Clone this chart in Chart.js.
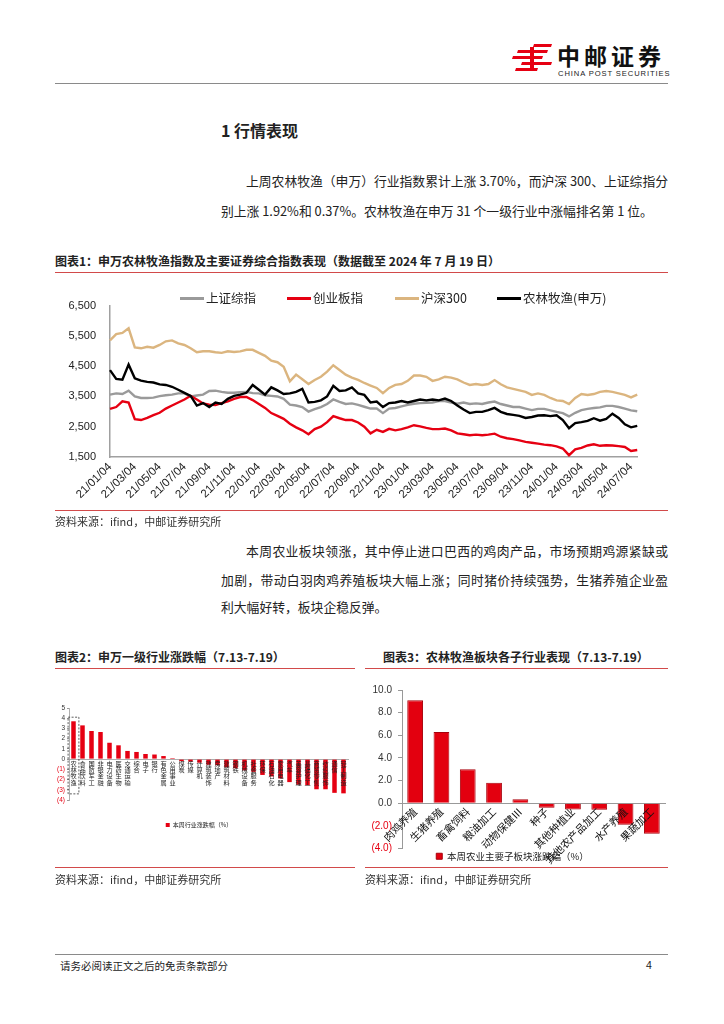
<!DOCTYPE html>
<html lang="zh-CN">
<head>
<meta charset="utf-8">
<title>农林牧渔行情表现</title>
<script src="https://cdn.jsdelivr.net/npm/chart.js@4.4.1/dist/chart.umd.min.js"></script>
<style>
  html, body { margin: 0; padding: 0; background: #fff; }
  body {
    width: 724px; height: 1024px; position: relative; overflow: hidden;
    font-family: "Noto Sans CJK SC", "Liberation Sans", sans-serif; color: #222;
  }
  .t { position: absolute; white-space: nowrap; }
  .just { text-align: justify; text-align-last: justify; }
  .body { font-size: 12.8px; line-height: 16px; }
  .cap { font-size: 12px; font-weight: bold; line-height: 14px; }
  .src { font-size: 11px; line-height: 14px; color: #333; }
  .redline { position: absolute; height: 0; border-top: 1px solid #d24a4a; }
  .box { position: absolute; }
  .lg { position: absolute; top: 290px; font-size: 12.5px; line-height: 16px; white-space: nowrap; }
  .lg i { display: inline-block; width: 24px; height: 3px; margin-right: 2px; vertical-align: middle; position: relative; top: -1px; }
</style>
</head>
<body>

<!-- header -->
<svg class="box" style="left:512px;top:43px" width="42" height="28" viewBox="0 0 42 28">
  <g fill="#e60012">
    <polygon points="22,1 40,1 39,4 21,4"/>
    <polygon points="6,7 36,7 35,10 5,10"/>
    <polygon points="1,13 31,13 30,16 0,16"/>
    <polygon points="10,19 40,19 39,22 9,22"/>
    <polygon points="4,25 26,25 25,28 3,28"/>
    <polygon points="18,4 22,4 22,25 18,25"/>
  </g>
</svg>
<div class="t" style="left:557px;top:42px;font-size:23px;font-weight:bold;letter-spacing:4px;line-height:26px;color:#111">中邮证券</div>
<div class="t" style="left:558px;top:69px;font-size:7.6px;letter-spacing:0.9px;line-height:10px;font-family:'Liberation Sans',sans-serif;color:#222">CHINA POST SECURITIES</div>
<div class="box" style="left:55px;top:83px;width:613px;border-top:1px solid #8a8a8a"></div>

<!-- section text -->
<div class="t" style="left:221px;top:121px;font-size:16px;font-weight:bold;line-height:18px">1 行情表现</div>
<div class="t body just" style="left:246px;top:173px;width:422px">上周农林牧渔（申万）行业指数累计上涨 3.70%，而沪深 300、上证综指分</div>
<div class="t body" style="left:221px;top:203px">别上涨 1.92%和 0.37%。农林牧渔在申万 31 个一级行业中涨幅排名第 1 位。</div>

<!-- figure 1 -->
<div class="t cap" style="left:55px;top:254px">图表1：申万农林牧渔指数及主要证券综合指数表现（数据截至 2024 年 7 月 19 日）</div>
<div class="redline" style="left:55px;top:272px;width:613px"></div>
<div class="box" style="left:50px;top:285px;width:600px;height:227px"><canvas id="c1"></canvas></div>
<div class="lg" style="left:180px"><i style="background:#9a9a9a"></i>上证综指</div>
<div class="lg" style="left:287px"><i style="background:#e60012"></i>创业板指</div>
<div class="lg" style="left:395px"><i style="background:#dbb57f"></i>沪深300</div>
<div class="lg" style="left:497px"><i style="background:#000"></i>农林牧渔(申万)</div>
<div class="redline" style="left:55px;top:510px;width:613px"></div>
<div class="t src" style="left:55px;top:514px">资料来源：ifind，中邮证券研究所</div>

<div class="t body just" style="left:246px;top:543px;width:422px">本周农业板块领涨，其中停止进口巴西的鸡肉产品，市场预期鸡源紧缺或</div>
<div class="t body just" style="left:221px;top:572px;width:447px">加剧，带动白羽肉鸡养殖板块大幅上涨；同时猪价持续强势，生猪养殖企业盈</div>
<div class="t body" style="left:221px;top:599px">利大幅好转，板块企稳反弹。</div>

<!-- figures 2 and 3 -->
<div class="t cap" style="left:55px;top:650px">图表2：申万一级行业涨跌幅（7.13-7.19）</div>
<div class="t cap" style="left:383px;top:650px">图表3：农林牧渔板块各子行业表现（7.13-7.19）</div>
<div class="redline" style="left:55px;top:668px;width:300px"></div>
<div class="redline" style="left:365px;top:668px;width:303px"></div>
<div class="box" style="left:50px;top:700px;width:305px;height:138px"><canvas id="c2"></canvas></div>
<div class="box" style="left:360px;top:678px;width:310px;height:193px"><canvas id="c3"></canvas></div>
<div class="redline" style="left:55px;top:867px;width:300px"></div>
<div class="redline" style="left:365px;top:867px;width:303px"></div>
<div class="t src" style="left:55px;top:872px">资料来源：ifind，中邮证券研究所</div>
<div class="t src" style="left:365px;top:872px">资料来源：ifind，中邮证券研究所</div>

<!-- footer -->
<div class="box" style="left:55px;top:954px;width:613px;border-top:1px solid #8a8a8a"></div>
<div class="t" style="left:60px;top:959px;font-size:10.5px;line-height:13px">请务必阅读正文之后的免责条款部分</div>
<div class="t" style="left:646px;top:959px;font-size:10.5px;line-height:13px;font-family:'Liberation Sans',sans-serif">4</div>

<script>
// ---- figure 1: index levels, sampled on the 4th and 19th of each month ----
const dates = [];
for (let y = 21; y <= 24; y++) {
  for (let mo = 1; mo <= 12; mo++) {
    if (y === 24 && mo > 7) break;
    const mm = String(mo).padStart(2, "0");
    dates.push(y + "/" + mm + "/04", y + "/" + mm + "/19");
  }
}

const shIndex = [
  3560, 3600, 3580, 3690, 3500, 3450, 3450, 3460, 3510, 3540, 3560, 3600, 3600, 3500, 3530, 3560,
  3680, 3690, 3650, 3620, 3620, 3640, 3650, 3610, 3600, 3540, 3520, 3500, 3420, 3230, 3200, 3150,
  3000, 3080, 3150, 3250, 3400, 3320, 3250, 3270, 3220, 3160, 3100, 3100, 2950, 3100, 3120, 3170,
  3220, 3260, 3280, 3290, 3300, 3350, 3350, 3300, 3260, 3300, 3250, 3270, 3250, 3300, 3330, 3250,
  3200, 3150, 3150, 3100, 3050, 3090, 3090, 3040, 2990, 2950, 2840, 2960, 3050, 3090, 3120, 3140,
  3190, 3190, 3150, 3100, 3040, 3010
];
const cybIndex = [
  3090, 3150, 3340, 3300, 2750, 2720, 2790, 2880, 2960, 3100, 3200, 3300, 3400, 3520, 3400, 3270,
  3230, 3220, 3280, 3340, 3420, 3480, 3480, 3380, 3250, 3120, 2950, 2860, 2760, 2600, 2480, 2380,
  2250, 2420, 2500, 2650, 2850, 2780, 2720, 2720, 2640, 2500, 2280, 2400, 2330, 2430, 2380, 2420,
  2480, 2550, 2510, 2460, 2420, 2420, 2440, 2380, 2280, 2250, 2220, 2240, 2220, 2240, 2270, 2170,
  2120, 2090, 2050, 2000, 1970, 1940, 1910, 1890, 1850, 1780, 1560, 1750, 1800, 1880, 1920, 1870,
  1890, 1880, 1860, 1830, 1700, 1730
];
const hs300Index = [
  5350, 5560, 5600, 5750, 5120, 5090, 5140, 5110, 5200, 5320, 5350, 5250, 5200, 5090, 4960, 4990,
  4990, 4960, 4940, 4990, 4970, 4990, 5040, 5040, 4940, 4840, 4680, 4630, 4480, 4000, 4220, 4065,
  3910, 4045, 4150, 4320, 4530, 4375, 4220, 4120, 4045, 3945, 3860, 3780, 3605, 3780, 3880, 3910,
  4015, 4190, 4190, 4150, 4015, 4065, 4150, 4120, 4065, 3960, 3880, 3910, 3880, 3910, 4040, 3900,
  3800, 3750, 3700, 3650, 3550, 3600, 3550, 3450, 3370, 3350, 3250, 3450, 3580, 3550, 3580, 3650,
  3680, 3650, 3600, 3550, 3470, 3560
];
const nlmyIndex = [
  4370, 4080, 4050, 4550, 4100, 4020, 3980, 3960, 3900, 3880, 3820, 3720, 3620, 3520, 3200, 3280,
  3150, 3300, 3250, 3420, 3520, 3560, 3620, 3880, 3720, 3560, 3800, 3700, 3580, 3600, 3650, 3750,
  3300, 3320, 3370, 3500, 3850, 3680, 3700, 3800, 3600, 3550, 3300, 3330, 3150, 3280, 3300, 3350,
  3300, 3350, 3400, 3370, 3400, 3370, 3430, 3350, 3200, 3070, 2950, 2990, 2990, 3050, 3120, 2990,
  2920, 2890, 2860, 2790, 2820, 2870, 2880, 2850, 2880, 2720, 2450, 2620, 2650, 2690, 2780, 2700,
  2760, 2930, 2790, 2580, 2480, 2530
];

// ---- figure 2: Shenwan level-1 industries, weekly change (%) ----
const industries = [
  "农林牧渔", "食品饮料", "国防军工", "非银金融", "电力设备", "医药生物", "交通运输", "综合",
  "电子", "银行", "有色金属", "公用事业", "煤炭", "传媒", "计算机", "建筑装饰", "房地产",
  "建筑材料", "钢铁", "机械设备", "社会服务", "环保", "石油石化", "家用电器", "汽车",
  "美容护理", "基础化工", "商贸零售", "纺织服饰", "通信", "轻工制造"
];
const industryChg = [
  3.70, 3.30, 2.75, 2.65, 1.60, 1.35, 0.80, 0.70, 0.50, 0.45, 0.30, 0.10, -0.20, -0.25, -0.35,
  -0.55, -0.60, -0.80, -0.90, -1.10, -1.25, -1.55, -1.70, -1.90, -2.25, -2.50, -2.55, -2.95,
  -2.95, -3.30, -3.35
];

// ---- figure 3: agriculture sub-sectors, weekly change (%) ----
const subSectors = [
  "肉鸡养殖", "生猪养殖", "畜禽饲料", "粮油加工", "动物保健Ⅲ", "种子", "其他种植业",
  "其他农产品加工", "水产养殖", "果蔬加工"
];
const subSectorChg = [9.10, 6.30, 3.00, 1.80, 0.35, -0.40, -0.55, -0.57, -1.90, -2.70];

const FONT = '"Liberation Sans", "Noto Sans CJK SC", sans-serif';
const CJK = '"Noto Sans CJK SC", sans-serif';
const RED = "#e60012";
Chart.defaults.font.family = FONT;
Chart.defaults.color = "#222";

function paren(v, digits) {
  const s = Math.abs(v).toFixed(digits);
  return v < 0 ? "(" + s + ")" : s;
}

new Chart(document.getElementById("c1"), {
  type: "line",
  data: {
    labels: dates,
    datasets: [
      { label: "上证综指", data: shIndex, borderColor: "#9a9a9a", order: 4 },
      { label: "创业板指", data: cybIndex, borderColor: RED, order: 3 },
      { label: "沪深300", data: hs300Index, borderColor: "#dbb57f", order: 2 },
      { label: "农林牧渔(申万)", data: nlmyIndex, borderColor: "#000", order: 1 },
    ],
  },
  options: {
    responsive: true,
    maintainAspectRatio: false,
    animation: false,
    layout: { padding: { top: 9, right: 7, left: 0, bottom: 0 } },
    elements: { line: { borderWidth: 2.4, tension: 0 }, point: { radius: 0 } },
    scales: {
      x: {
        grid: { display: false, drawTicks: false },
        border: { color: "#a0a0a0", width: 1.5 },
        ticks: {
          autoSkip: false, maxRotation: 45, minRotation: 45, padding: 3,
          font: { size: 11.5 },
          callback(value, index) { return index % 4 === 0 ? this.getLabelForValue(value) : ""; },
        },
        afterFit(s) { s.height = 55; },
      },
      y: {
        min: 1500, max: 6500,
        grid: { display: false, drawTicks: false },
        border: { color: "#a0a0a0", width: 1.5 },
        ticks: { stepSize: 1000, padding: 14, font: { size: 11 }, callback: (v) => v.toLocaleString("en-US") },
        afterFit(s) { s.width = 60; },
      },
    },
    plugins: { legend: { display: false }, tooltip: { enabled: false } },
  },
});

// dashed frame around the leading industry
const leaderBox = {
  id: "leaderBox",
  afterDatasetsDraw(chart) {
    const { ctx, scales: { x, y } } = chart;
    const cx = x.getPixelForValue(0);
    const half = (x.width / industries.length) * 0.6;
    ctx.save();
    ctx.setLineDash([2, 1.5]);
    ctx.strokeStyle = "#333";
    ctx.lineWidth = 0.8;
    ctx.strokeRect(cx - half, y.getPixelForValue(4.1), half * 2, y.getPixelForValue(-3.4) - y.getPixelForValue(4.1));
    ctx.restore();
  },
};

new Chart(document.getElementById("c2"), {
  type: "bar",
  data: {
    labels: industries,
    datasets: [{
      label: "本周行业涨跌幅（%）", data: industryChg,
      backgroundColor: RED, borderWidth: 0, barPercentage: 0.5, categoryPercentage: 1,
    }],
  },
  options: {
    responsive: true,
    maintainAspectRatio: false,
    animation: false,
    layout: { padding: { top: 8, right: 7, left: 0, bottom: 0 } },
    scales: {
      x: {
        position: { y: 0 },
        grid: { display: false, drawTicks: false },
        border: { color: "#999", width: 0.8 },
        ticks: {
          z: 1,
          autoSkip: false, maxRotation: 0, minRotation: 0, padding: 1.5,
          font: { size: 6.2, lineHeight: 1, family: CJK },
          callback(value) { return this.getLabelForValue(value).split(""); },
        },
      },
      y: {
        min: -4, max: 5,
        grid: { display: true, drawOnChartArea: false, drawTicks: true, tickLength: 2, color: "#999" },
        border: { color: "#999", width: 0.8 },
        ticks: {
          stepSize: 1, autoSkip: false, padding: 2, font: { size: 6.5, lineHeight: 1 },
          color: (c) => (c.tick && c.tick.value < 0 ? RED : "#333"),
          callback: (v) => paren(v, 0),
        },
        afterFit(s) { s.width = 19; },
      },
    },
    plugins: {
      legend: {
        position: "bottom",
        labels: { boxWidth: 4, boxHeight: 4, padding: 22, font: { size: 6, family: CJK } },
      },
      tooltip: { enabled: false },
    },
  },
  plugins: [leaderBox],
});

new Chart(document.getElementById("c3"), {
  type: "bar",
  data: {
    labels: subSectors,
    datasets: [{
      label: "本周农业主要子板块涨跌幅（%）", data: subSectorChg,
      backgroundColor: "#e3000f", borderColor: "#a8000b", borderWidth: 1,
      barPercentage: 0.6, categoryPercentage: 1,
    }],
  },
  options: {
    responsive: true,
    maintainAspectRatio: false,
    animation: false,
    layout: { padding: { top: 5, right: 5, left: 0, bottom: 0 } },
    scales: {
      x: {
        position: { y: 0 },
        grid: { display: false, drawTicks: false },
        border: { color: "#999", width: 1 },
        ticks: {
          z: 1,
          autoSkip: false, maxRotation: 45, minRotation: 45, padding: 2,
          font: { size: 10.5, family: CJK }, color: "#111",
        },
      },
      y: {
        min: -4, max: 10,
        grid: { display: true, drawOnChartArea: false, drawTicks: true, tickLength: 4, color: "#999" },
        border: { color: "#999", width: 1 },
        ticks: {
          stepSize: 2, autoSkip: false, padding: 6, font: { size: 10 },
          color: (c) => (c.tick && c.tick.value < 0 ? RED : "#333"),
          callback: (v) => paren(v, 1),
        },
        afterFit(s) { s.width = 42; },
      },
    },
    plugins: {
      legend: {
        position: "bottom",
        labels: { boxWidth: 6, boxHeight: 6, padding: 3, font: { size: 9.5, family: CJK } },
      },
      tooltip: { enabled: false },
    },
  },
});
</script>
</body>
</html>
